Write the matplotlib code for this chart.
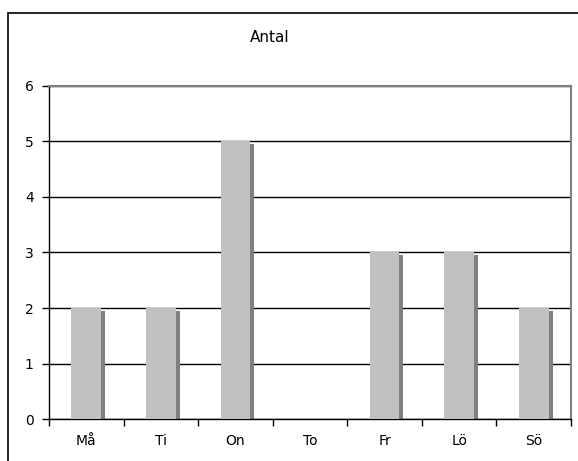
import matplotlib
matplotlib.use("Agg")
import matplotlib.pyplot as plt
from matplotlib.patches import Rectangle
import numpy as np

# Data
days = ['Må', 'Ti', 'On', 'To', 'Fr', 'Lö', 'Sö']
counts = [2, 2, 5, 0, 3, 3, 2]
title = 'Antal'

W, H = 578, 461
fig = plt.figure(figsize=(W / 100, H / 100), dpi=100)
plt.rcParams['font.family'] = 'DejaVu Sans'

# outer chart frame (cut off at right/bottom like the original)
fig.patches.append(Rectangle((8 / W, -0.1), 1.2, (H - 13) / H + 0.1,
                             transform=fig.transFigure, fill=False,
                             edgecolor='black', linewidth=1.2, clip_on=False))

ax = fig.add_axes([49 / W, (H - 419) / H, (571 - 49) / W, (419 - 86) / H])

x = np.arange(len(days))
bw = 0.40
dx = 4 / 74.6     # shadow offset, horizontal
dy = 3 / 55.5     # shadow offset, vertical

# shadow bars behind
shadow = [max(v - dy, 0) for v in counts]
ax.bar(x + dx, shadow, width=bw, color='#808080', zorder=2)
ax.bar(x, counts, width=bw, color='#C0C0C0', zorder=3)

ax.set_xlim(-0.5, len(days) - 0.5)
ax.set_ylim(0, 6)
ax.set_yticks(range(0, 7))
ax.yaxis.grid(True, color='black', linewidth=1.0, zorder=1)
ax.set_axisbelow(True)

ax.set_xticks(x)
ax.set_xticklabels(days, fontsize=10)
ax.set_xticks(np.arange(-0.5, len(days)), minor=True)
ax.tick_params(axis='x', which='major', length=0, pad=11)
ax.tick_params(axis='x', which='minor', length=5, direction='out', width=1)
ax.tick_params(axis='y', length=5, direction='out', width=1, labelsize=10, pad=6)

for s in ['top', 'right']:
    ax.spines[s].set_color('#808080')
    ax.spines[s].set_linewidth(1.5)
for s in ['left', 'bottom']:
    ax.spines[s].set_color('black')
    ax.spines[s].set_linewidth(1.0)

fig.text(270 / W, (H - 37) / H, title, ha='center', va='center', fontsize=11)

fig.savefig('out.png', dpi=100)
